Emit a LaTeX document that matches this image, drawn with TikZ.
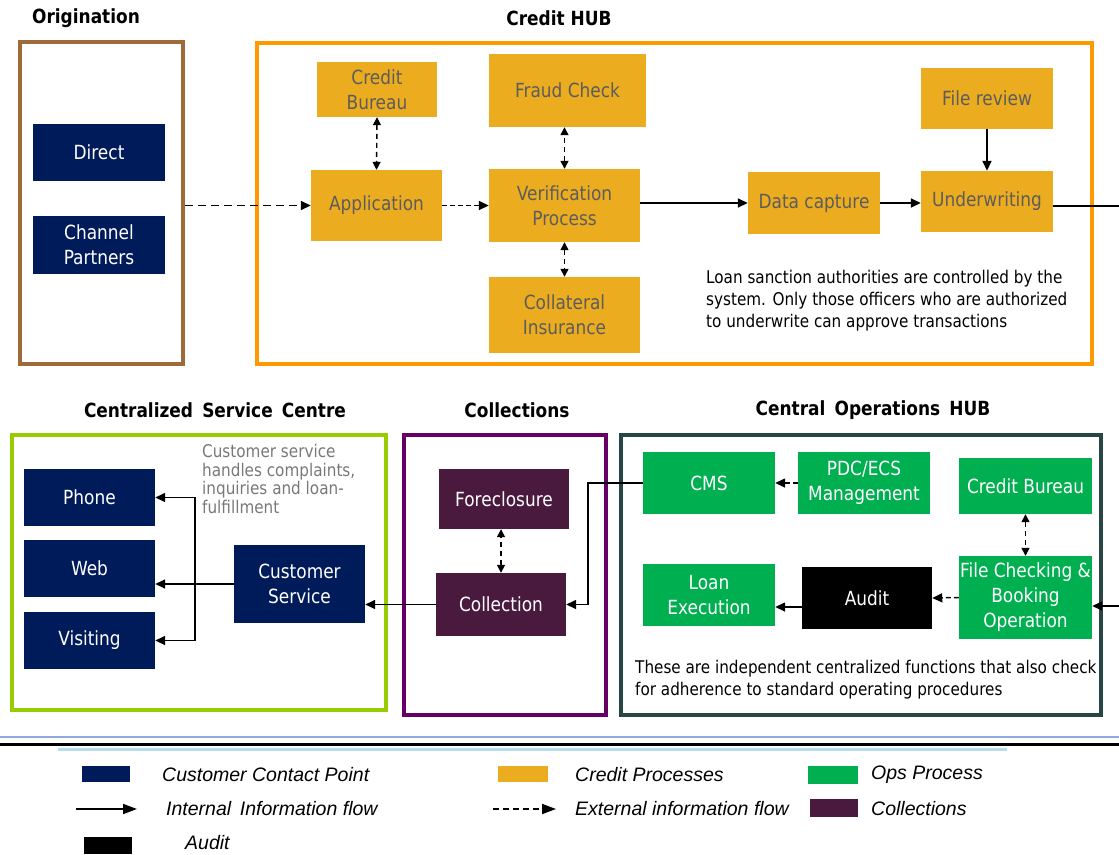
\documentclass[tikz,border=0pt]{standalone}
\usepackage{fontspec}
\setmainfont{DejaVu Sans}[FakeStretch=0.87]
\newfontfamily\legendfont{Liberation Sans}
\usetikzlibrary{arrows.meta}
\definecolor{navy}{RGB}{0,27,90}
\definecolor{creditorange}{RGB}{236,172,32}
\definecolor{credittext}{RGB}{92,92,92}
\definecolor{opsgreen}{RGB}{0,176,80}
\definecolor{collpurple}{RGB}{74,26,62}
\definecolor{originbrown}{RGB}{158,106,58}
\definecolor{huborange}{RGB}{255,153,0}
\definecolor{servicelime}{RGB}{153,204,0}
\definecolor{collframe}{RGB}{102,0,102}
\definecolor{opsteal}{RGB}{39,70,70}
\definecolor{notegray}{RGB}{120,120,120}
\definecolor{rulblue}{RGB}{143,170,220}
\definecolor{rulecyan}{RGB}{183,222,232}
\tikzset{
  procbox/.style={rectangle, inner sep=0pt, align=center,
    font=\fontsize{19.5}{25}\selectfont},
  wh/.style 2 args={minimum width=#1pt, minimum height=#2pt},
  contact/.style={procbox, fill=navy, text=white},
  credit/.style={procbox, fill=creditorange, text=credittext},
  ops/.style={procbox, fill=opsgreen, text=white},
  coll/.style={procbox, fill=collpurple, text=white},
  auditstep/.style={procbox, fill=black, text=white},
  hub/.style={rectangle, draw=#1, line width=4pt, inner sep=0pt},
  hubtitle/.style={inner sep=0pt, font=\bfseries\fontsize{19.5}{22}\selectfont},
  note/.style={anchor=west, align=left, inner sep=0pt,
    font=\fontsize{17.5}{22}\selectfont},
  intflow/.style={-{Triangle[length=10pt,width=9pt]}, line width=1.5pt},
  extflow/.style={intflow, dash pattern=on 8pt off 5pt},
  extboth/.style={{Triangle[length=8pt,width=8pt]}-{Triangle[length=8pt,width=8pt]},
    line width=1.4pt, dash pattern=on 5pt off 4pt},
  legendtext/.style={anchor=west, inner sep=0pt,
    font=\legendfont\itshape\fontsize{19.5}{22}\selectfont},
}
\begin{document}
\begin{tikzpicture}[x=1pt,y=-1pt]
      \useasboundingbox (0,0) rectangle (1119,854);
      % frames and their titles
      \draw
        (101.5,203) node[hub=originbrown, wh={163}{322}] (origination){}
        (674.5,203.5) node[hub=huborange, wh={835}{321}] (credithub){}
        (199,572.5) node[hub=servicelime, wh={374}{275}] (servicecentre){}
        (505,575) node[hub=collframe, wh={202}{280}] (collections){}
        (861,575) node[hub=opsteal, wh={480}{280}] (operations){};
      \draw
        (86,18) node[hubtitle] (origtitle){Origination}
        (559,18) node[hubtitle] (credittitle){Credit HUB}
        (215,410) node[hubtitle] (servicetitle){Centralized\, Service\, Centre}
        (517,410) node[hubtitle] (colltitle){Collections}
        (873,410) node[hubtitle] (opstitle){Central\, Operations\, HUB};
      % origination and credit hub
      \draw
        (99,152.5) node[contact, wh={132}{57}] (direct){Direct}
        (99,245) node[contact, wh={132}{58}] (channel){Channel\\Partners}
        (377,89.5) node[credit, wh={120}{55}] (cbureau){Credit\\Bureau}
        (376.5,205.5) node[credit, wh={131}{71}] (application){Application}
        (567.5,90.5) node[credit, wh={157}{73}] (fraud){Fraud Check}
        (564.5,205.5) node[credit, wh={151}{73}] (verification){Verification\\Process}
        (564.5,315) node[credit, wh={151}{76}] (collateral){Collateral\\Insurance}
        (814,203) node[credit, wh={132}{62}] (datacap){Data capture}
        (987,98.5) node[credit, wh={132}{61}] (filereview){File review}
        (987,201.5) node[credit, wh={132}{61}] (underwriting){Underwriting}
        (706,301) node[note] (creditnote){Loan sanction authorities are controlled by the\\system. Only those officers who are authorized\\to underwrite can approve transactions};
      % service centre, collections, operations
      \draw
        (89.5,497.5) node[contact, wh={131}{57}] (phone){Phone}
        (89.5,568.5) node[contact, wh={131}{57}] (web){Web}
        (89.5,640.5) node[contact, wh={131}{57}] (visiting){Visiting}
        (299.5,584) node[contact, wh={131}{78}] (custserv){Customer\\Service}
        (202,479) node[note, text=notegray, font=\fontsize{17.5}{18.7}\selectfont] (servicenote){Customer service\\handles complaints,\\inquiries and loan-\\fulfillment}
        (504,499) node[coll, wh={130}{60}] (foreclosure){Foreclosure}
        (501,604.5) node[coll, wh={130}{63}] (collection){Collection}
        (709,483) node[ops, wh={132}{62}] (cms){CMS}
        (864,483) node[ops, wh={132}{62}] (pdc){PDC/ECS\\Management}
        (1025.5,486) node[ops, wh={133}{56}] (opsbureau){Credit Bureau}
        (1025.5,597.5) node[ops, wh={133}{83}] (filecheck){File Checking \&\\Booking\\Operation}
        (867,598) node[auditstep, wh={130}{62}] (auditbox){Audit}
        (709,595) node[ops, wh={132}{62}] (loanexec){Loan\\Execution}
        (635,679.5) node[note] (opsnote){These are independent centralized functions that also check\\for adherence to standard operating procedures};
      \coordinate (uwout) at (1119,206);
      \coordinate (fcin) at (1119,606);
      \coordinate (fork) at (195,584);
      \begin{scope}[intflow]
        \draw (verification.east |- datacap) -- (datacap.west);
        \draw (datacap.east) -- (datacap.east -| underwriting.west);
        \draw (filereview.south) -- (underwriting.north);
        \draw[-] (underwriting.east |- uwout) -- (uwout);
        \draw (fcin) -- (fcin -| filecheck.east);
        \draw (auditbox.west) ++(0,9) -- (loanexec.east |- 0,607);
        \draw (cms.west) -- ++(-55,0) |- (collection.east);
        \draw (collection.west) -- (collection.west -| custserv.east);
        \draw[-] (custserv.west |- fork) -- (fork);
        \draw (fork) |- (phone.east);
        \draw (fork) -- (fork -| web.east);
        \draw (fork) |- (visiting.east);
      \end{scope}
      \begin{scope}[extflow]
        \draw (origination.east |- application) -- (application.west);
        \draw[dash pattern=on 5pt off 3pt] (application.east) -- (verification.west);
        \draw[dash pattern=on 5pt off 3pt] (pdc.west) -- (cms.east);
        \draw[dash pattern=on 5pt off 3pt] (filecheck.west) -- (auditbox.east);
      \end{scope}
      \begin{scope}[extboth]
        \draw (cbureau.south) -- (application.north);
        \draw (verification.north) -- (verification.north |- fraud.south);
        \draw (verification.south) -- (collateral.north);
        \draw (collection.north) -- (collection.north |- foreclosure.south);
        \draw (opsbureau.south) -- (filecheck.north);
      \end{scope}
      % rules above the legend
      \draw[rulblue, line width=2pt] (0,737) -- (1119,737);
      \draw[line width=3.3pt] (0,744.5) -- (1119,744.5);
      \draw[rulecyan, line width=3.3pt] (58,749.5) -- (1007,749.5);
      % legend
      \fill[navy] (82,766) rectangle (130,782);
      \fill[creditorange] (498,766) rectangle (548,782);
      \fill[opsgreen] (808,766) rectangle (858,784);
      \fill[collpurple] (810,799) rectangle (858,817);
      \fill[black] (84,837) rectangle (132,854);
      \coordinate (intfrom) at (76,809);
      \coordinate (intto) at (137,809);
      \coordinate (extfrom) at (493,809);
      \coordinate (extto) at (556,809);
      \draw[line width=1.7pt, -{Triangle[length=14pt,width=10pt]}] (intfrom) -- (intto);
      \draw[line width=1.7pt, dash pattern=on 6pt off 4pt, -{Triangle[length=14pt,width=10pt]}] (extfrom) -- (extto);
      \draw
        (162,775) node[legendtext] (keycontact){Customer Contact Point}
        (166,809) node[legendtext] (keyint){Internal\, Information flow}
        (185,843) node[legendtext] (keyaudit){Audit}
        (575,775) node[legendtext] (keycredit){Credit Processes}
        (575,809) node[legendtext] (keyext){External information flow}
        (871,775) node[legendtext] (keyops){Ops Process}
        (871,809) node[legendtext] (keycoll){Collections};
\end{tikzpicture}
\end{document}
